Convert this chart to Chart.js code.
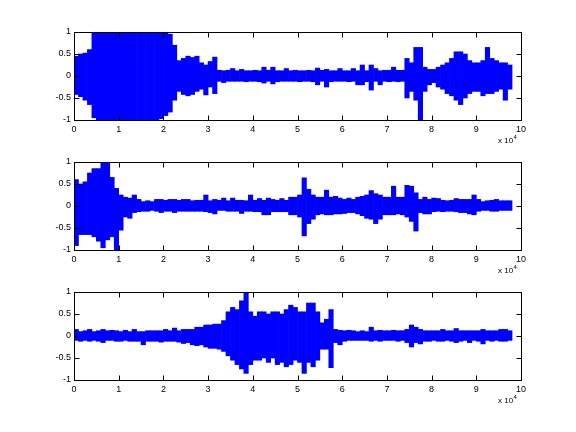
<!DOCTYPE html>
<html>
<head>
<meta charset="utf-8">
<script src="https://cdn.jsdelivr.net/npm/chart.js@4.4.1/dist/chart.umd.min.js"></script>
<style>
  html, body { margin: 0; padding: 0; background: #fff; }
  body { width: 576px; height: 432px; position: relative; overflow: hidden; }
  canvas { position: absolute; left: 0; }
</style>
</head>
<body>
<canvas id="c1" width="576" height="140" style="top:12px"></canvas>
<canvas id="c2" width="576" height="140" style="top:142px"></canvas>
<canvas id="c3" width="576" height="140" style="top:272px"></canvas>
<script>
// envelope of each signal, one min/max pair per block of 1000 samples
const binSize = 1000;

const topHi = [0.45, 0.5, 0.52, 0.6, 1,
  1, 1, 1, 1, 1, 1, 1, 1, 1, 1, 1, 1, 1, 1, 1,
  1, 0.95, 0.7, 0.35, 0.4, 0.45, 0.42, 0.45, 0.3, 0.25,
  0.33, 0.43, 0.13, 0.12, 0.13, 0.17, 0.12, 0.15, 0.12, 0.12,
  0.13, 0.12, 0.2, 0.13, 0.2, 0.12, 0.12, 0.17, 0.12, 0.13,
  0.12, 0.12, 0.13, 0.12, 0.18, 0.13, 0.15, 0.12, 0.12, 0.17,
  0.12, 0.12, 0.17, 0.12, 0.25, 0.12, 0.25, 0.17, 0.12, 0.13,
  0.13, 0.2, 0.13, 0.13, 0.4, 0.3, 0.65, 0.65, 0.2, 0.15,
  0.15, 0.2, 0.25, 0.3, 0.4, 0.55, 0.55, 0.5, 0.35, 0.3,
  0.3, 0.35, 0.65, 0.4, 0.35, 0.3, 0.3, 0.25];
const topLo = [-0.42, -0.47, -0.55, -0.65, -0.95,
  -1, -1, -1, -1, -1, -1, -1, -1, -1, -1, -1, -1, -1, -1, -0.97,
  -0.9, -0.82, -0.55, -0.35, -0.42, -0.45, -0.42, -0.35, -0.3, -0.43,
  -0.25, -0.4, -0.12, -0.15, -0.12, -0.12, -0.12, -0.12, -0.13, -0.12,
  -0.12, -0.13, -0.16, -0.12, -0.18, -0.13, -0.12, -0.12, -0.12, -0.12,
  -0.13, -0.12, -0.12, -0.13, -0.2, -0.12, -0.25, -0.13, -0.12, -0.12,
  -0.12, -0.13, -0.12, -0.2, -0.2, -0.13, -0.32, -0.12, -0.2, -0.12,
  -0.13, -0.12, -0.13, -0.12, -0.5, -0.35, -0.55, -1, -0.35, -0.2,
  -0.15, -0.25, -0.3, -0.4, -0.45, -0.55, -0.65, -0.5, -0.4, -0.35,
  -0.35, -0.45, -0.4, -0.4, -0.35, -0.3, -0.55, -0.3];

const midHi = [0.6, 0.5, 0.55, 0.75, 0.85, 0.85, 1, 1, 0.65, 0.4,
  0.25, 0.2, 0.18, 0.25, 0.15, 0.1, 0.12, 0.1, 0.15, 0.15,
  0.13, 0.15, 0.15, 0.13, 0.15, 0.15, 0.12, 0.13, 0.13, 0.25,
  0.12, 0.15, 0.13, 0.18, 0.12, 0.18, 0.13, 0.13, 0.12, 0.25,
  0.13, 0.17, 0.13, 0.18, 0.15, 0.13, 0.17, 0.13, 0.2, 0.2,
  0.25, 0.64, 0.38, 0.25, 0.2, 0.2, 0.36, 0.2, 0.22, 0.18,
  0.15, 0.18, 0.15, 0.2, 0.22, 0.25, 0.35, 0.28, 0.25, 0.2,
  0.2, 0.45, 0.2, 0.2, 0.47, 0.45, 0.3, 0.15, 0.2, 0.15,
  0.18, 0.17, 0.13, 0.12, 0.13, 0.17, 0.15, 0.15, 0.15, 0.25,
  0.15, 0.1, 0.12, 0.13, 0.15, 0.12, 0.12, 0.12];
const midLo = [-0.9, -0.65, -0.65, -0.65, -0.7, -0.8, -0.95, -0.77, -0.7, -1,
  -0.55, -0.25, -0.28, -0.15, -0.13, -0.12, -0.12, -0.1, -0.12, -0.15,
  -0.12, -0.12, -0.15, -0.12, -0.12, -0.12, -0.12, -0.12, -0.12, -0.13,
  -0.15, -0.18, -0.1, -0.1, -0.12, -0.12, -0.12, -0.17, -0.12, -0.12,
  -0.13, -0.13, -0.2, -0.2, -0.13, -0.13, -0.13, -0.13, -0.2, -0.2,
  -0.25, -0.68, -0.4, -0.3, -0.2, -0.18, -0.2, -0.2, -0.18, -0.18,
  -0.17, -0.15, -0.15, -0.18, -0.22, -0.28, -0.3, -0.4, -0.3, -0.2,
  -0.2, -0.2, -0.18, -0.2, -0.25, -0.35, -0.57, -0.15, -0.18, -0.18,
  -0.13, -0.12, -0.13, -0.12, -0.12, -0.13, -0.15, -0.15, -0.18, -0.2,
  -0.12, -0.1, -0.1, -0.12, -0.12, -0.1, -0.1, -0.1];

const botHi = [0.15, 0.1, 0.12, 0.15, 0.1, 0.12, 0.15, 0.12, 0.13, 0.12,
  0.1, 0.13, 0.1, 0.15, 0.1, 0.1, 0.12, 0.12, 0.12, 0.12,
  0.15, 0.12, 0.18, 0.12, 0.15, 0.15, 0.15, 0.2, 0.2, 0.25,
  0.25, 0.27, 0.27, 0.35, 0.55, 0.65, 0.6, 0.8, 1, 0.55,
  0.45, 0.55, 0.55, 0.5, 0.55, 0.55, 0.5, 0.6, 0.7, 0.65,
  0.55, 0.55, 0.75, 0.75, 0.55, 0.3, 0.38, 0.6, 0.15, 0.13,
  0.12, 0.13, 0.12, 0.1, 0.12, 0.1, 0.2, 0.12, 0.13, 0.12,
  0.12, 0.13, 0.12, 0.12, 0.15, 0.25, 0.2, 0.15, 0.12, 0.12,
  0.12, 0.12, 0.15, 0.12, 0.12, 0.17, 0.12, 0.12, 0.12, 0.12,
  0.12, 0.15, 0.12, 0.12, 0.12, 0.15, 0.15, 0.12];
const botLo = [-0.1, -0.12, -0.1, -0.12, -0.1, -0.12, -0.15, -0.1, -0.1, -0.12,
  -0.12, -0.1, -0.12, -0.12, -0.12, -0.2, -0.12, -0.12, -0.12, -0.14,
  -0.12, -0.12, -0.12, -0.14, -0.17, -0.15, -0.2, -0.22, -0.2, -0.25,
  -0.28, -0.28, -0.3, -0.35, -0.45, -0.55, -0.65, -0.75, -0.85, -0.65,
  -0.55, -0.55, -0.5, -0.6, -0.5, -0.65, -0.6, -0.7, -0.65, -0.55,
  -0.6, -0.85, -0.6, -0.7, -0.55, -0.3, -0.3, -0.72, -0.15, -0.2,
  -0.12, -0.1, -0.1, -0.1, -0.1, -0.1, -0.12, -0.1, -0.12, -0.1,
  -0.1, -0.1, -0.12, -0.1, -0.15, -0.25, -0.15, -0.18, -0.12, -0.12,
  -0.1, -0.12, -0.12, -0.1, -0.12, -0.15, -0.12, -0.1, -0.15, -0.1,
  -0.12, -0.18, -0.1, -0.12, -0.1, -0.12, -0.12, -0.1];

const xTickLabels = ['0', '1', '2', '3', '4', '5', '6', '7', '8', '9', '10'];
const yTickLabels = ['-1', '-0.5', '0', '0.5', '1'];

const FONT = '"Liberation Sans", Arial, Helvetica, sans-serif';

// box with inward tick marks on all four sides, plus the "x 10^4" note
const matlabAxes = {
  id: 'matlabAxes',
  afterDraw(chart) {
    const { ctx, chartArea: a } = chart;
    const xs = chart.scales.x, ys = chart.scales.y;
    const L = Math.round(a.left) + 0.5, R = Math.round(a.right) + 0.5;
    const T = Math.round(a.top) + 0.5, B = Math.round(a.bottom) + 0.5;
    const len = 5;
    ctx.save();
    ctx.strokeStyle = '#000';
    ctx.lineWidth = 1;
    ctx.strokeRect(L, T, R - L, B - T);
    ctx.beginPath();
    xs.ticks.forEach(t => {
      const px = Math.round(xs.getPixelForValue(t.value)) + 0.5;
      ctx.moveTo(px, B); ctx.lineTo(px, B - len);
      ctx.moveTo(px, T); ctx.lineTo(px, T + len);
    });
    ys.ticks.forEach(t => {
      const py = Math.round(ys.getPixelForValue(t.value)) + 0.5;
      ctx.moveTo(L, py); ctx.lineTo(L + len, py);
      ctx.moveTo(R, py); ctx.lineTo(R - len, py);
    });
    ctx.stroke();

    ctx.fillStyle = '#000';
    ctx.textBaseline = 'alphabetic';
    ctx.font = '8px ' + FONT;
    const base = B + 22;
    ctx.fillText('x 10', 498, base);
    const w = ctx.measureText('x 10').width;
    ctx.font = '6px ' + FONT;
    ctx.fillText('4', 498 + w + 0.5, base - 4);
    ctx.restore();
  }
};

function makePanel(id, hi, lo) {
  const points = hi.map((h, k) => ({ x: k * binSize + binSize / 2, y: [lo[k], h] }));
  return new Chart(document.getElementById(id), {
    type: 'bar',
    data: {
      datasets: [{
        data: points,
        backgroundColor: '#0000ff',
        borderWidth: 0,
        barPercentage: 1,
        categoryPercentage: 1,
        grouped: false
      }]
    },
    options: {
      responsive: false,
      animation: false,
      layout: { padding: { top: 20, left: 44, right: 55, bottom: 16 } },
      plugins: { legend: { display: false }, tooltip: { enabled: false } },
      scales: {
        x: {
          type: 'linear',
          min: 0,
          max: 100000,
          offset: false,
          grid: { display: false, drawTicks: false, offset: false },
          border: { display: false },
          ticks: {
            stepSize: 10000,
            autoSkip: false,
            maxRotation: 0,
            padding: 4,
            color: '#000',
            font: { family: FONT, size: 9 },
            callback: (v, i) => xTickLabels[i]
          },
          afterFit: s => { s.height = 16; }
        },
        y: {
          min: -1,
          max: 1,
          grid: { display: false, drawTicks: false },
          border: { display: false },
          ticks: {
            stepSize: 0.5,
            padding: 3,
            color: '#000',
            font: { family: FONT, size: 9 },
            callback: (v, i) => yTickLabels[i]
          },
          afterFit: s => { s.width = 30; }
        }
      }
    },
    plugins: [matlabAxes]
  });
}

makePanel('c1', topHi, topLo);
makePanel('c2', midHi, midLo);
makePanel('c3', botHi, botLo);
</script>
</body>
</html>
